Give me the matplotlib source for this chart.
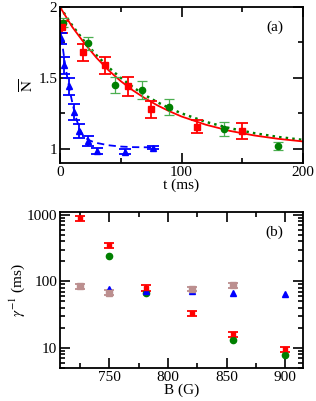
import numpy as np
import matplotlib
matplotlib.use('Agg')
import matplotlib.pyplot as plt
from matplotlib.ticker import FixedLocator, LogLocator, NullFormatter

plt.rcParams['font.family'] = ['Liberation Serif', 'DejaVu Serif']
plt.rcParams['mathtext.fontset'] = 'stix'
plt.rcParams['font.size'] = 11

# ---- panel (a): mean N versus hold time ----
t_red = [2, 19, 37, 56, 75, 112.5, 150]
n_red = [1.86, 1.68, 1.59, 1.44, 1.28, 1.155, 1.125]
e_red = [0.04, 0.06, 0.06, 0.065, 0.06, 0.045, 0.055]

t_green = [2.7, 22.8, 45.3, 67.6, 90, 134.6, 179.7]
n_green = [1.89, 1.745, 1.448, 1.415, 1.297, 1.14, 1.019]
e_green = [0.03, 0.047, 0.057, 0.065, 0.055, 0.05, 0.028]

t_blue = [0.8, 3.6, 7.7, 11.8, 15.6, 22.8, 30.7, 53.5, 76.3]
n_blue = [1.78, 1.59, 1.44, 1.26, 1.123, 1.057, 0.986, 0.981, 1.009]
e_blue = [0.04, 0.06, 0.06, 0.055, 0.05, 0.035, 0.02, 0.02, 0.01]

# fit curves
fit_t = [0, 10, 20, 30, 40, 50, 60, 70, 80, 90, 100, 120, 140, 160, 180, 200]
fit_red = [2.0, 1.86, 1.745, 1.642, 1.553, 1.477, 1.412, 1.356, 1.307, 1.265, 1.228, 1.17, 1.126, 1.094, 1.07, 1.052]
fit_green = [2.0, 1.87, 1.758, 1.66, 1.574, 1.5, 1.435, 1.378, 1.329, 1.287, 1.25, 1.19, 1.145, 1.11, 1.083, 1.063]
fit_blue_t = [0, 2, 4, 6, 8, 10, 12, 14, 16, 19, 23, 27, 31, 40, 50, 60, 78]
fit_blue = [1.87, 1.73, 1.605, 1.5, 1.41, 1.33, 1.255, 1.195, 1.145, 1.095, 1.064, 1.05, 1.04, 1.025, 1.016, 1.012, 1.01]

# ---- panel (b): inverse loss rate versus field ----
b_red = [725, 750, 781, 820, 855, 900]
g_red = [890, 350, 80, 33, 16, 9.6]
b_green = [750, 781, 855, 900]
g_green = [240, 66, 13.2, 7.9]
b_blue = [750, 781, 820, 855, 900]
g_blue = [76, 73, 71, 67, 64]
b_brown = [725, 750, 820, 855]
g_brown = [84, 68, 77, 88]

fig = plt.figure(figsize=(3.16, 4.01), dpi=100)
ax1 = fig.add_axes([0.19, 0.5935, 0.769, 0.389])
ax2 = fig.add_axes([0.19, 0.0823, 0.769, 0.3887])

red = '#ff0000'
green = '#008000'
blue = '#0000ff'
brown = '#bc8f8f'

ax1.plot(fit_t, fit_green, ':', color=green, lw=1.8)
ax1.plot(fit_t, fit_red, '-', color=red, lw=1.3)
ax1.plot(fit_blue_t, fit_blue, '--', color=blue, lw=1.3, dashes=(4, 2.5))
ax1.errorbar(t_green, n_green, yerr=e_green, fmt='o', color=green, ms=4.5,
             ecolor='#4caf50', elinewidth=0.9, capsize=3.5, capthick=0.9)
ax1.errorbar(t_red, n_red, yerr=e_red, fmt='s', color=red, ms=4,
             elinewidth=1.3, capsize=4, capthick=1.3)
ax1.errorbar(t_blue, n_blue, yerr=e_blue, fmt='^', color=blue, ms=4.5,
             elinewidth=1.3, capsize=4, capthick=1.3)

ax1.set_xlim(0, 200)
ax1.set_ylim(0.9, 2.0)
ax1.set_xticks([0, 100, 200])
ax1.xaxis.set_minor_locator(FixedLocator([50, 150]))
ax1.set_yticks([1, 1.5, 2])
ax1.set_yticklabels(['1', '1.5', '2'])
ax1.yaxis.set_minor_locator(FixedLocator([1.25, 1.75]))
ax1.set_xlabel('t (ms)', labelpad=0)
ax1.set_ylabel(r'$\overline{\mathrm{N}}$', labelpad=1)
ax1.text(0.92, 0.87, '(a)', transform=ax1.transAxes, ha='right', va='center')

ax2.errorbar(b_brown, g_brown, yerr=[0.08 * g for g in g_brown], fmt='s', color=brown,
             ms=4, elinewidth=1.3, capsize=3.5, capthick=1.3)
ax2.errorbar(b_red, g_red, yerr=[0.09 * g for g in g_red], fmt='s', color=red,
             ms=3.5, elinewidth=1.3, capsize=3.5, capthick=1.3)
ax2.plot(b_green, g_green, 'o', color=green, ms=4.5)
ax2.plot(b_blue, g_blue, '^', color=blue, ms=4.5)

ax2.set_yscale('log')
ax2.set_xlim(708, 915)
ax2.set_ylim(5, 1100)
ax2.set_xticks([750, 800, 850, 900])
ax2.xaxis.set_minor_locator(FixedLocator([725, 775, 825, 875]))
ax2.set_yticks([10, 100, 1000])
ax2.set_yticklabels(['10', '100', '1000'])
ax2.yaxis.set_minor_locator(LogLocator(base=10, subs=np.arange(2, 10)))
ax2.yaxis.set_minor_formatter(NullFormatter())
ax2.set_xlabel('B (G)', labelpad=0)
ax2.set_ylabel(r'$\gamma^{-1}$ (ms)', labelpad=0)
ax2.text(0.92, 0.87, '(b)', transform=ax2.transAxes, ha='right', va='center')

for ax in (ax1, ax2):
    for s in ax.spines.values():
        s.set_linewidth(1.3)
    ax.tick_params(which='both', direction='in', top=True, right=True, width=1.2, pad=2)
    ax.tick_params(which='major', length=7)
    ax.tick_params(which='minor', length=3.5)

fig.savefig('out.png', dpi=100)
